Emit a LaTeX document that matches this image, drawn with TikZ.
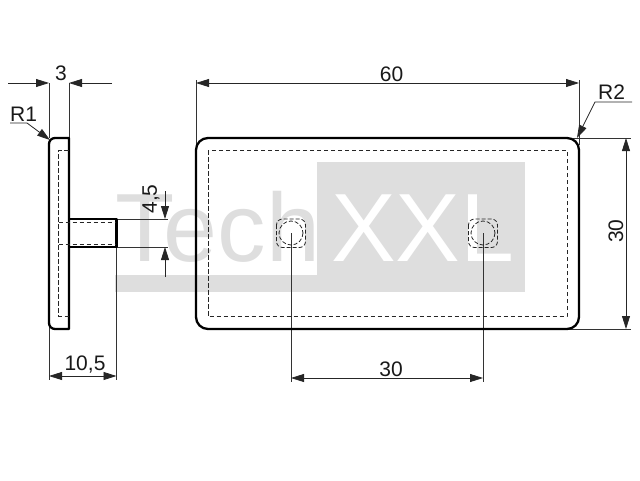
\documentclass[tikz,border=0pt]{standalone}
\usepackage{fontspec}
\setmainfont{Liberation Sans}
\usetikzlibrary{arrows.meta}
\definecolor{wm}{RGB}{222,222,222}
\tikzset{
 x=1pt,y=-1pt,
 outline/.style={line width=2.3pt,line join=round},
 hidden/.style={line width=0.8pt,dash pattern=on 4.5pt off 2.5pt,draw=black!85},
 ext/.style={line width=0.8pt,draw=black!80},
 dim/.style={line width=0.8pt,draw=black!85},
 tip/.style={-{Triangle[length=13pt,width=8pt]}},
 tipb/.style={{Triangle[length=13pt,width=8pt]}-{Triangle[length=13pt,width=8pt]}},
 lab/.style={font=\fontsize{21}{21}\selectfont,inner sep=0pt,text=black!90},
 wmtext/.style={inner sep=0pt,anchor=base west}
}
\begin{document}
\begin{tikzpicture}
\useasboundingbox (0,0) rectangle (640,480);
% watermark
\fill[wm] (317,162) rectangle (525,291.5);
\fill[wm] (115,275) rectangle (317,291.5);
\node[wmtext,text=wm,font=\fontsize{97}{97}\selectfont] (wmtech) at (115,261) {Tech};
\node[wmtext,text=white,font=\fontsize{97}{97}\selectfont] (wmxxl) at (331,261) {XXL};
% extension lines
\coordinate (e3l) at (49,83); \coordinate (e3r) at (69,83);
\draw[ext] (e3l) -- (49,138) (e3r) -- (69,138);
\draw[ext] (196,80) -- (196,145) (579,80) -- (579,145);
\draw[ext] (573,138) -- (631,138) (565,329) -- (631,329);
\draw[ext] (49,325) -- (49,380) (116.5,247) -- (116.5,380);
\draw[ext] (69,219) -- (168,219) (69,247) -- (168,247);
\draw[ext] (291,233) -- (291,382) (483,233) -- (483,382);
% side view
\draw[outline] (55,138) -- (69,138) -- (69,329) -- (55,329) arc[start angle=90,end angle=180,radius=6] -- (49,144) arc[start angle=180,end angle=270,radius=6] -- cycle;
\draw[outline] (69,219) -- (116.5,219) -- (116.5,247) -- (69,247);
\draw[hidden] (68.5,150) -- (58.5,150) -- (58.5,316) -- (68.5,316);
\draw[hidden] (58.5,222) -- (116,222) (58.5,244.5) -- (116,244.5);
% front view
\draw[outline,rounded corners=12pt] (196,138) rectangle (579,329);
\draw[hidden] (208,150) rectangle (567,316.5);
\foreach \cx in {291,483}{
 \draw[hidden,dash pattern=on 4pt off 2pt,rounded corners=6pt] (\cx-14.5,219) rectangle (\cx+14.5,247.5);
 \draw[hidden,dash pattern=on 4pt off 2pt] (\cx,233) circle[radius=12];
}
% dimensions
\coordinate (a3l) at (8,83); \coordinate (a3r) at (112,83);
\draw[dim,tip] (a3l) -- (49,83); \draw[dim,tip] (a3r) -- (69,83);
\node[lab] (t3) at (61,73.5) {3};
\draw[dim,tipb] (196,83) -- (579,83);
\node[lab] (t60) at (391.5,74.5) {60};
\draw[dim,tipb] (49,376) -- (116.5,376);
\node[lab] (t105) at (85,365) {10,5};
\draw[dim,tipb] (291,378) -- (483,378);
\node[lab] (t30b) at (391,369) {30};
\draw[dim,tipb] (626,138) -- (626,329);
\node[lab,rotate=90] (t30r) at (616,231) {30};
\draw[dim,tip] (165,191) -- (165,219);
\draw[dim,tip] (165,277) -- (165,247);
\node[lab,rotate=90] (t45) at (151,199) {4,5};
% radii
\node[lab,anchor=base west] (r1) at (10,121.5) {R1};
\draw[dim,tip] (10,123) -- (27,123) -- (50,140);
\node[lab,anchor=base west] (r2) at (598,99) {R2};
\draw[dim,tip] (632,102) -- (595,102) -- (577,138);
\end{tikzpicture}
\end{document}
